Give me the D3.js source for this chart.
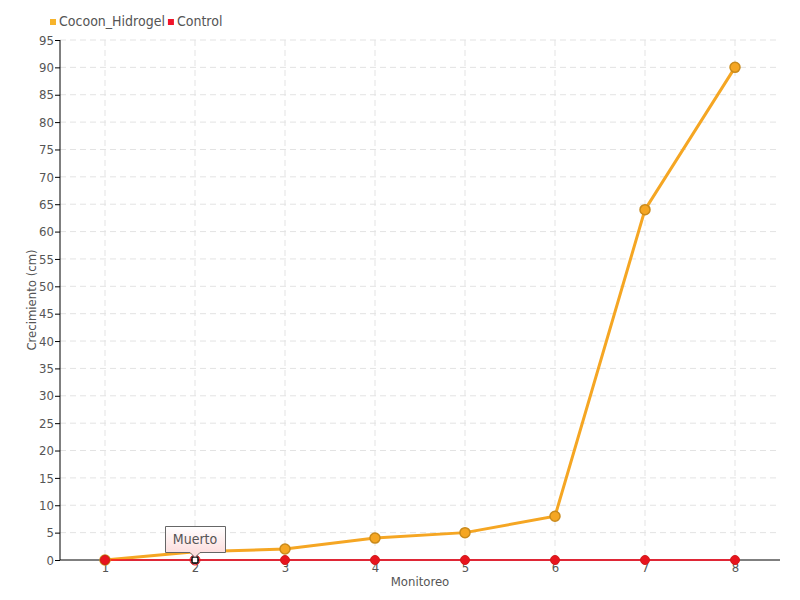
<!DOCTYPE html>
<html><head><meta charset="utf-8">
<script src="https://cdn.jsdelivr.net/npm/d3@7"></script>
<style>
body{margin:0;background:#fff;}
text{font-family:"DejaVu Sans Condensed","DejaVu Sans",sans-serif;font-stretch:condensed;fill:#555;}
</style></head><body>
<svg id="c" width="800" height="600"></svg>
<script>
const categories = ["1","2","3","4","5","6","7","8"];
const cocoon = [0, 1.5, 2, 4, 5, 8, 64, 90];
const control = [0, 0, 0, 0, 0, 0, 0, 0];
const yTicks = d3.range(0, 100, 5);
const seriesNames = ["Cocoon_Hidrogel", "Control"];
const tooltipText = "Muerto";

const svg = d3.select("#c");
const W = 800, H = 600;
const m = {l:60, r:20, t:40, b:40};
const x = d3.scalePoint().domain(categories).range([m.l, W - m.r]).padding(0.5);
const y = d3.scaleLinear().domain([0, 95]).range([H - m.b, m.t]);

// grid
const g = svg.append("g");
g.selectAll(".hg").data(yTicks.filter(d=>d>0)).enter().append("line")
  .attr("x1", m.l).attr("x2", W - m.r).attr("y1", d=>y(d)).attr("y2", d=>y(d))
  .attr("stroke", "#e3e3e3").attr("stroke-dasharray", "6,4");
g.selectAll(".vg").data(categories).enter().append("line")
  .attr("x1", d=>x(d)).attr("x2", d=>x(d)).attr("y1", m.t).attr("y2", H - m.b)
  .attr("stroke", "#e3e3e3").attr("stroke-dasharray", "6,4");

// y axis
const ya = svg.append("g").attr("transform", `translate(${m.l},0)`)
  .call(d3.axisLeft(y).tickValues(yTicks).tickSize(5).tickPadding(1));
ya.select(".domain").attr("stroke", "#000").attr("d", `M0,${m.t}V${H-m.b}`);
ya.selectAll(".tick line").attr("stroke", "#000");
ya.selectAll("text").style("font-size", "13px").attr("fill", "#555");

// x axis
const xa = svg.append("g").attr("transform", `translate(0,${H - m.b})`)
  .call(d3.axisBottom(x).tickSize(0).tickPadding(3));
xa.select(".domain").attr("stroke", "#000").attr("d", `M${m.l},0H${W-m.r}`);
xa.selectAll("text").style("font-size", "13px").attr("fill", "#555");

// axis titles
svg.append("text").attr("transform", `translate(36,${(m.t + H - m.b)/2}) rotate(-90)`)
  .attr("text-anchor", "middle").style("font-size", "13px").text("Crecimiento (cm)");
svg.append("text").attr("x", (m.l + W - m.r)/2).attr("y", 586)
  .attr("text-anchor", "middle").style("font-size", "13px").text("Monitoreo");

// lines
const line = d3.line().x((d,i)=>x(categories[i])).y(d=>y(d));
svg.append("path").datum(cocoon).attr("d", line).attr("fill", "none")
  .attr("stroke", "#f5a623").attr("stroke-width", 3);
svg.append("path").datum(control).attr("d", line).attr("fill", "none")
  .attr("stroke", "#ff0a1e").attr("stroke-width", 1.5);

// markers
svg.selectAll(".mc").data(cocoon.map((v,i)=>({v,i})).filter(d=>d.i!==1)).enter().append("circle")
  .attr("cx", d=>x(categories[d.i])).attr("cy", d=>y(d.v)).attr("r", 5)
  .attr("fill", "#f5a623").attr("stroke", "#c98a1c").attr("stroke-width", 1.5);
svg.selectAll(".mr").data(control.map((v,i)=>({v,i})).filter(d=>d.i!==1)).enter().append("circle")
  .attr("cx", d=>x(categories[d.i])).attr("cy", d=>y(d.v)).attr("r", 4.5)
  .attr("fill", "#e8141e").attr("stroke", "#d21a1a").attr("stroke-width", 1);
// highlighted point
svg.append("rect").attr("x", x(categories[1]) - 3).attr("y", y(control[1]) - 3)
  .attr("width", 6).attr("height", 6).attr("fill", "#fff").attr("stroke", "#000").attr("stroke-width", 1.5);
svg.append("circle").attr("cx", x(categories[1])).attr("cy", y(control[1])).attr("r", 5)
  .attr("fill", "none").attr("stroke", "#e8141e").attr("stroke-width", 1);

// tooltip
const defs = svg.append("defs");
const grad = defs.append("linearGradient").attr("id", "tg").attr("x1", 0).attr("x2", 0).attr("y1", 0).attr("y2", 1);
grad.append("stop").attr("offset", "0%").attr("stop-color", "#ffffff");
grad.append("stop").attr("offset", "100%").attr("stop-color", "#fcd8d8");
const tx = x(categories[1]), ty = y(control[1]);
const bx = tx - 30, by = ty - 34, bw = 60, bh = 26;
svg.append("path")
  .attr("d", `M${bx+0.5},${by+0.5}H${bx+bw+0.5}V${by+bh+0.5}H${tx+5}L${tx},${by+bh+5.5}L${tx-5},${by+bh+0.5}H${bx+0.5}Z`)
  .attr("fill", "url(#tg)").attr("stroke", "#666").attr("stroke-width", 1);
svg.append("text").attr("x", tx).attr("y", by + 18).attr("text-anchor", "middle")
  .style("font-size", "14px").attr("fill", "#444").text(tooltipText);

// legend
const legColors = ["#f7b42c", "#f0142a"];
const lg = svg.append("g");
let lx = 50;
seriesNames.forEach((n,i)=>{
  lg.append("rect").attr("x", lx).attr("y", 19).attr("width", 6).attr("height", 6).attr("fill", legColors[i]);
  const t = lg.append("text").attr("x", lx + 9).attr("y", 26).style("font-size", "14px").attr("fill", "#555").text(n);
  lx += 9 + t.node().getComputedTextLength() + 3;
});
</script>
</body></html>
